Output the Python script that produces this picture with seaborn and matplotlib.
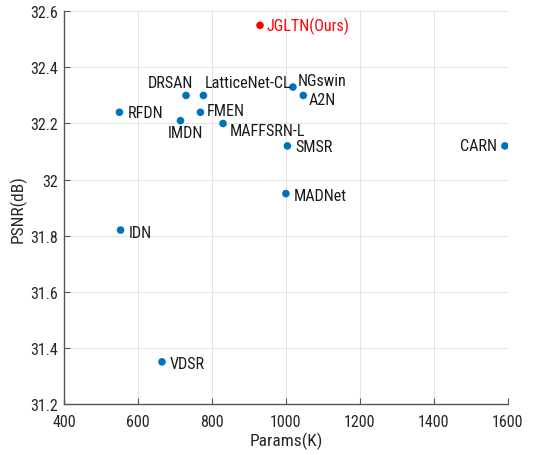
import matplotlib
matplotlib.use("Agg")
import matplotlib.pyplot as plt
import seaborn as sns
import pandas as pd

methods = ["JGLTN(Ours)", "DRSAN", "LatticeNet-CL", "NGswin", "A2N", "RFDN", "FMEN",
           "IMDN", "MAFFSRN-L", "SMSR", "CARN", "MADNet", "IDN", "VDSR"]
params_k = [930, 730, 777, 1019, 1047, 550, 769, 715, 830, 1004, 1592, 1000, 553, 665]
psnr_db = [32.55, 32.30, 32.30, 32.33, 32.30, 32.24, 32.24, 32.21, 32.20, 32.12, 32.12, 31.95, 31.82, 31.35]
group = ["ours"] + ["other"] * 13
x_ticks = [400, 600, 800, 1000, 1200, 1400, 1600]
y_ticks = [31.2, 31.4, 31.6, 31.8, 32.0, 32.2, 32.4, 32.6]
y_tick_labels = ["31.2", "31.4", "31.6", "31.8", "32", "32.2", "32.4", "32.6"]

# label placement (pixel offsets, alignment)
label_style = {
    "JGLTN(Ours)": (6, 0, "left"),
    "DRSAN": (7, 13, "right"),
    "LatticeNet-CL": (1, 13, "left"),
    "NGswin": (5, 7, "left"),
    "A2N": (5, -4, "left"),
    "RFDN": (8, 0, "left"),
    "FMEN": (6, 2, "left"),
    "IMDN": (5, -12, "center"),
    "MAFFSRN-L": (7, -7, "left"),
    "SMSR": (8, -1, "left"),
    "CARN": (-8, 0, "right"),
    "MADNet": (8, -2, "left"),
    "IDN": (8, -2, "left"),
    "VDSR": (8, -2, "left"),
}

df = pd.DataFrame({"method": methods, "params": params_k, "psnr": psnr_db, "group": group})

sns.set_theme(style="white")
plt.rcParams["font.family"] = ["Roboto Condensed", "DejaVu Sans"]

fig = plt.figure(figsize=(5.42, 4.56), dpi=100)
ax = fig.add_axes([0.118, 0.112, 0.819, 0.861])

palette = {"ours": "#FF0000", "other": "#0072BD"}
sns.scatterplot(data=df, x="params", y="psnr", hue="group", palette=palette,
                s=30, edgecolor="none", legend=False, ax=ax, zorder=3)

for m, xv, yv, g in zip(methods, params_k, psnr_db, group):
    dx, dy, ha = label_style[m]
    ax.annotate(m, (xv, yv), xytext=(dx, dy), textcoords="offset pixels",
                ha=ha, va="center", fontsize=11.6,
                color="#FF0000" if g == "ours" else "#1a1a1a")

ax.set_xlim(400, 1600)
ax.set_ylim(31.2, 32.6)
ax.set_xticks(x_ticks)
ax.set_yticks(y_ticks)
ax.set_yticklabels(y_tick_labels)
ax.grid(True, color="#e3e3e3", linewidth=0.7)
ax.set_axisbelow(True)
for s in ["top", "right"]:
    ax.spines[s].set_visible(False)
for s in ["left", "bottom"]:
    ax.spines[s].set_color("#555555")
    ax.spines[s].set_linewidth(1.0)
ax.tick_params(direction="in", length=4, width=0.8, colors="#555555",
               labelcolor="#262626", labelsize=11.5, left=True, bottom=True)
ax.tick_params(axis="x", pad=7)
ax.tick_params(axis="y", pad=4)
ax.set_xlabel("Params(K)", fontsize=12.5, color="#262626", labelpad=2)
ax.set_ylabel("PSNR(dB)", fontsize=12.5, color="#262626", labelpad=3)

fig.savefig("out.png", dpi=100)
